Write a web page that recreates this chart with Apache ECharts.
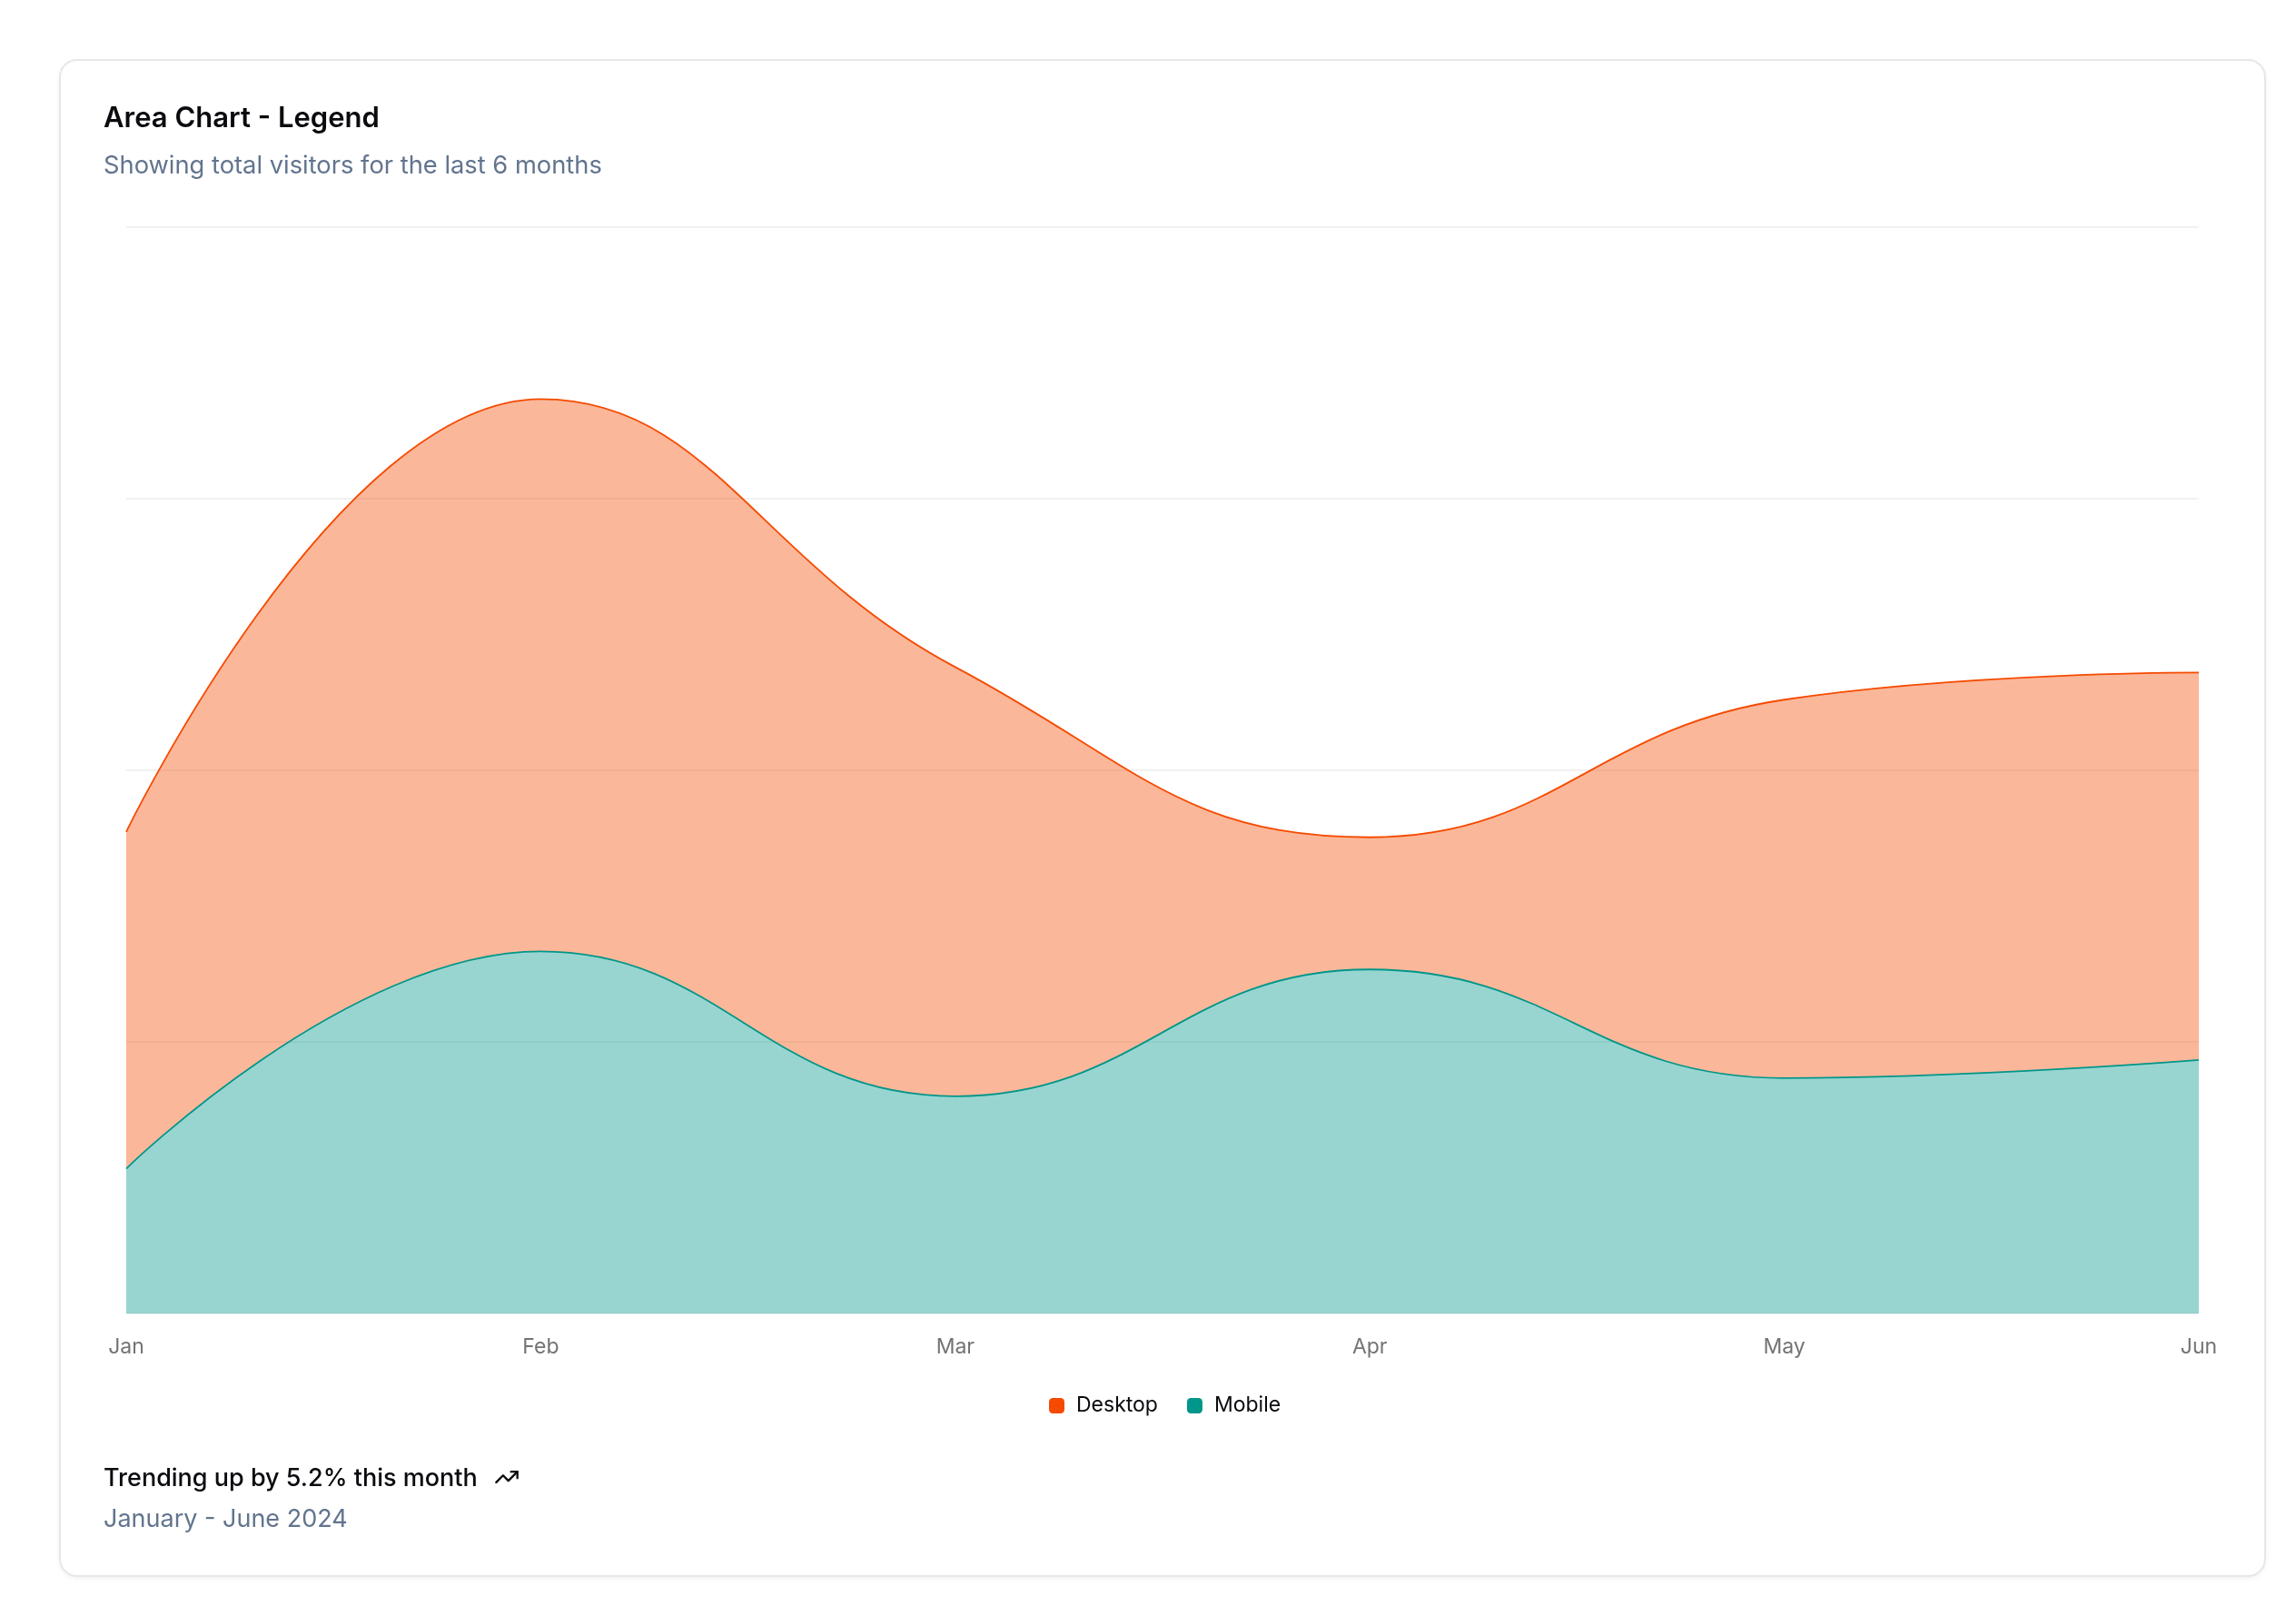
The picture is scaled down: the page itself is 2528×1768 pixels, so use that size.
<!DOCTYPE html>
<html>
<head>
<meta charset="utf-8">
<script src="https://cdn.jsdelivr.net/npm/echarts@6/dist/echarts.min.js"></script>
<style>
  html, body { margin: 0; padding: 0; background: #fff; font-family: Inter, "Noto Sans", sans-serif; }
  .card {
    position: absolute; left: 65px; top: 65px; width: 2430px; height: 1671px;
    box-sizing: border-box; border: 2px solid #e5e7eb; border-radius: 20px;
    box-shadow: 0 2px 4px rgba(0,0,0,0.05);
  }
  .txt { position: absolute; left: 114px; line-height: 1; white-space: nowrap; }
  .title { top: 113px; font-size: 31px; font-weight: 600; color: #0a0a0f; }
  .sub { top: 168px; font-size: 27.3px; color: #62748e; }
  .trend { top: 1612px; font-size: 27px; font-weight: 500; color: #0a0a0f; display: flex; align-items: center; gap: 18px; }
  .range { top: 1658px; font-size: 27px; color: #62748e; }
  #chart { position: absolute; left: 0; top: 0; width: 2528px; height: 1768px; }
</style>
</head>
<body>
<div class="card"></div>
<div id="chart"></div>
<div class="txt title">Area Chart - Legend</div>
<div class="txt sub">Showing total visitors for the last 6 months</div>
<div class="txt trend">Trending up by 5.2% this month
  <svg width="28" height="28" viewBox="0 0 24 24" fill="none" stroke="#0a0a0f" stroke-width="2" stroke-linecap="round" stroke-linejoin="round"><polyline points="22 7 13.5 15.5 8.5 10.5 2 17"></polyline><polyline points="16 7 22 7 22 13"></polyline></svg>
</div>
<div class="txt range">January - June 2024</div>
<script>
const months = ['Jan', 'Feb', 'Mar', 'Apr', 'May', 'Jun'];
const desktop = [186, 305, 237, 73, 209, 214];
const mobile = [80, 200, 120, 190, 130, 140];

const desktopColor = '#f54a00';
const mobileColor = '#009689';

const chart = echarts.init(document.getElementById('chart'));
chart.setOption({
  animation: false,
  grid: { left: 139, right: 107, top: 250, bottom: 322 },
  legend: {
    data: ['Desktop', 'Mobile'],
    left: 1150,
    top: 1531,
    icon: 'roundRect',
    itemWidth: 17,
    itemHeight: 17,
    itemGap: 32,
    textStyle: { fontFamily: 'Inter', fontSize: 23, color: '#0a0a0f', padding: [0, 0, 0, 8] }
  },
  xAxis: {
    type: 'category',
    data: months,
    boundaryGap: false,
    axisLine: { show: false },
    axisTick: { show: false },
    axisLabel: { margin: 26, fontFamily: 'Inter', fontSize: 23, color: '#737373' }
  },
  yAxis: {
    type: 'value',
    min: 0,
    max: 600,
    interval: 150,
    axisLabel: { show: false },
    axisLine: { show: false },
    axisTick: { show: false },
    splitLine: { lineStyle: { color: '#ececec', width: 1.5 } }
  },
  series: [
    {
      name: 'Mobile',
      type: 'line',
      stack: 'a',
      data: mobile,
      smooth: 0.45,
      symbol: 'none',
      lineStyle: { color: mobileColor, width: 1.8 },
      itemStyle: { color: mobileColor },
      areaStyle: { color: mobileColor, opacity: 0.4 }
    },
    {
      name: 'Desktop',
      type: 'line',
      stack: 'a',
      data: desktop,
      smooth: 0.45,
      symbol: 'none',
      lineStyle: { color: desktopColor, width: 1.8 },
      itemStyle: { color: desktopColor },
      areaStyle: { color: desktopColor, opacity: 0.4 }
    }
  ]
});
</script>
</body>
</html>
